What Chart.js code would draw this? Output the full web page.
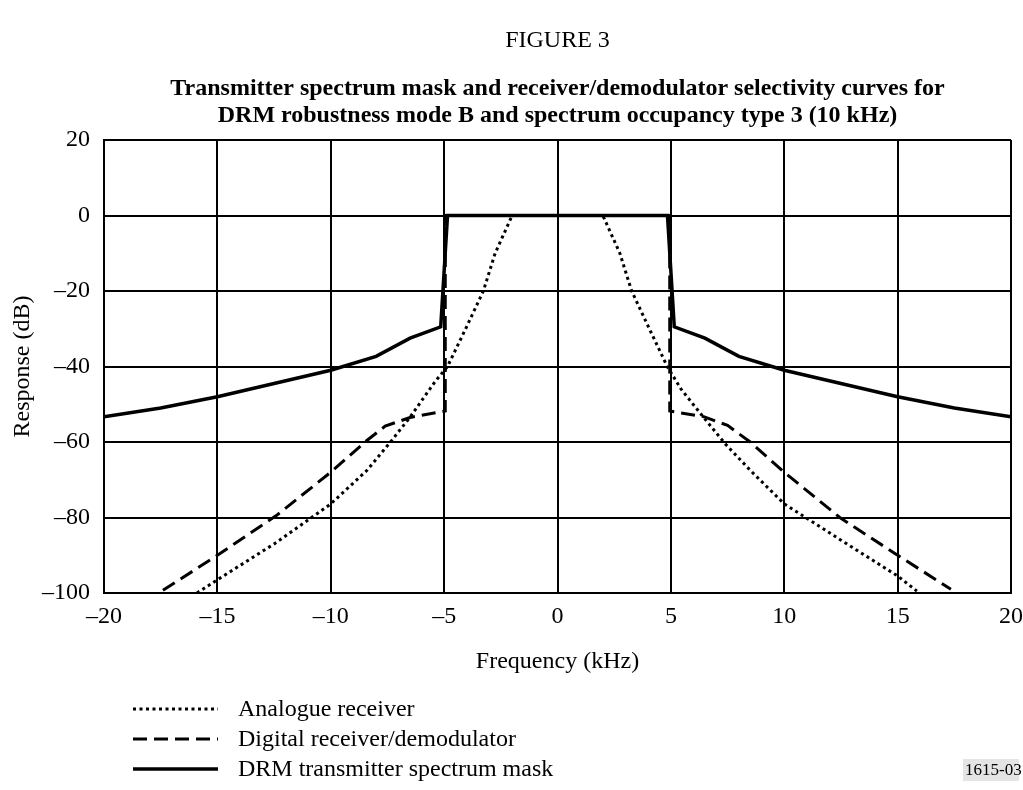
<!DOCTYPE html>
<html>
<head>
<meta charset="utf-8">
<script src="https://cdn.jsdelivr.net/npm/chart.js@4"></script>
<style>
  html, body { margin: 0; padding: 0; background: #fff; }
  #wrap { width: 1023px; height: 790px; }
</style>
</head>
<body>
<div id="wrap"><canvas id="fig3"></canvas></div>
<script>
// frequency (kHz) / response (dB)
const analogFreq = [-15.9, -15, -12.5, -10, -8.4, -7.3, -6.5, -5.4, -4.85, -4.05, -3.27, -2.75, -2, 2, 2.75, 3.27, 4.05, 4.84, 5.45, 6.43, 7.4, 8.5, 10, 12.5, 15, 15.85];
const analogResp = [-100, -96.5, -87, -76.4, -67.5, -59.5, -53.4, -44, -40, -30, -20, -10, 0, 0, -10, -20, -30, -40, -46, -53.4, -60.5, -67.5, -76.4, -86, -95.5, -99.5];

const digitalFreq = [-17.4, -15, -12.4, -10, -8.45, -7.6, -6.5, -4.95, -4.95, 4.95, 4.95, 6.45, 7.5, 8.5, 10, 12.45, 15, 17.35];
const digitalResp = [-99.3, -90, -79.5, -68, -59.8, -55.8, -53.5, -51.8, 0, 0, -51.8, -53.3, -55.6, -60, -68, -80, -90, -99];

const maskFreq = [-20, -17.5, -15, -12.5, -10, -8, -6.5, -5.15, -4.85, 4.85, 5.15, 6.5, 8, 10, 12.5, 15, 17.5, 20];
const maskResp = [-53.3, -51, -48, -44.5, -41, -37.3, -32.5, -29.5, 0, 0, -29.5, -32.5, -37.3, -41, -44.5, -48, -51, -53.3];

const seriesNames = ['Analogue receiver', 'Digital receiver/demodulator', 'DRM transmitter spectrum mask'];

const FONT = 'Liberation Serif, "Times New Roman", serif';
const TXT = 24;

function toPoints(xs, ys) {
    return xs.map((x, i) => ({x: x, y: ys[i]}));
}

function minus(v) {
    return v < 0 ? '\u2013' + Math.abs(v) : String(v);
}

// legend under the plot plus the figure reference number
const legendBelow = {
    id: 'legendBelow',
    afterDraw(chart) {
        const ctx = chart.ctx;
        const rows = [709, 739, 769];
        ctx.save();
        chart.data.datasets.forEach((ds, i) => {
            ctx.beginPath();
            ctx.strokeStyle = '#000';
            ctx.lineWidth = ds.borderWidth;
            ctx.setLineDash(ds.borderDash || []);
            ctx.moveTo(133, rows[i]);
            ctx.lineTo(218, rows[i]);
            ctx.stroke();
            ctx.setLineDash([]);
            ctx.fillStyle = '#000';
            ctx.font = TXT + 'px ' + FONT;
            ctx.textBaseline = 'middle';
            ctx.fillText(ds.label, 238, rows[i] + 1);
        });
        ctx.fillStyle = '#e4e4e4';
        ctx.fillRect(963, 759, 56, 22);
        ctx.fillStyle = '#000';
        ctx.font = '17px ' + FONT;
        ctx.fillText('1615-03', 965, 771);
        ctx.restore();
    }
};

new Chart(document.getElementById('fig3'), {
    type: 'line',
    data: {
        datasets: [{
            label: seriesNames[0],
            data: toPoints(analogFreq, analogResp),
            borderColor: '#000',
            borderWidth: 3,
            borderDash: [3, 3.5],
            pointRadius: 0
        }, {
            label: seriesNames[1],
            data: toPoints(digitalFreq, digitalResp),
            borderColor: '#000',
            borderWidth: 3,
            borderDash: [14, 7],
            pointRadius: 0
        }, {
            label: seriesNames[2],
            data: toPoints(maskFreq, maskResp),
            borderColor: '#000',
            borderWidth: 3.5,
            pointRadius: 0
        }]
    },
    options: {
        responsive: true,
        maintainAspectRatio: false,
        animation: false,
        layout: { padding: { top: 26, right: 0, bottom: 107, left: 0 } },
        plugins: {
            legend: { display: false },
            tooltip: { enabled: false },
            title: {
                display: true,
                fullSize: false,
                text: 'FIGURE 3',
                color: '#000',
                font: { family: FONT, size: TXT, weight: 'normal', lineHeight: 1.2 },
                padding: { top: 0, bottom: 20 }
            },
            subtitle: {
                display: true,
                fullSize: false,
                text: ['Transmitter spectrum mask and receiver/demodulator selectivity curves for',
                       'DRM robustness mode B and spectrum occupancy type 3 (10 kHz)'],
                color: '#000',
                font: { family: FONT, size: TXT, weight: 'bold', lineHeight: 1.15 },
                padding: { top: 0, bottom: 10 }
            }
        },
        scales: {
            x: {
                type: 'linear',
                min: -20,
                max: 20,
                afterFit: function(scale) {
                    scale.height = 90;
                    scale.paddingRight = 12;
                },
                ticks: {
                    stepSize: 5,
                    color: '#000',
                    padding: 9,
                    maxRotation: 0,
                    font: { family: FONT, size: TXT },
                    callback: minus
                },
                grid: { color: '#000', lineWidth: 2, drawTicks: false },
                border: { color: '#000', width: 2 },
                title: {
                    display: true,
                    text: 'Frequency (kHz)',
                    color: '#000',
                    font: { family: FONT, size: TXT },
                    padding: { top: 4, bottom: 7 }
                }
            },
            y: {
                min: -100,
                max: 20,
                afterFit: function(scale) { scale.width = 104; },
                ticks: {
                    stepSize: 20,
                    color: '#000',
                    padding: 14,
                    font: { family: FONT, size: TXT },
                    callback: minus
                },
                grid: { color: '#000', lineWidth: 2, drawTicks: false },
                border: { color: '#000', width: 2 },
                title: {
                    display: true,
                    text: 'Response (dB)',
                    color: '#000',
                    font: { family: FONT, size: TXT },
                    padding: { top: 8, bottom: 0 }
                }
            }
        }
    },
    plugins: [legendBelow]
});
</script>
</body>
</html>
